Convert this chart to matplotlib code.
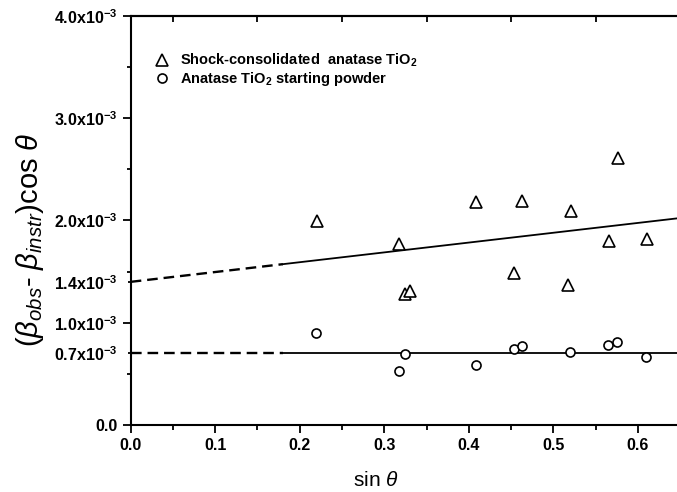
import matplotlib
matplotlib.use('Agg')
import matplotlib.pyplot as plt
import numpy as np

plt.rcParams['font.family'] = ['Liberation Sans', 'DejaVu Sans']
plt.rcParams['mathtext.fontset'] = 'custom'
plt.rcParams['mathtext.rm'] = 'Liberation Sans'
plt.rcParams['mathtext.it'] = 'Liberation Sans:italic'
plt.rcParams['mathtext.bf'] = 'Liberation Sans:bold'

# data (y values in units of 1e-3)
shock_x = [0.220, 0.318, 0.324, 0.331, 0.408, 0.454, 0.463, 0.517, 0.521, 0.566, 0.577, 0.611]
shock_y = [1.995, 1.770, 1.281, 1.313, 2.184, 1.487, 2.194, 1.366, 2.090, 1.802, 2.608, 1.816]
powder_x = [0.219, 0.317, 0.325, 0.408, 0.453, 0.463, 0.520, 0.565, 0.576, 0.610]
powder_y = [0.900, 0.531, 0.691, 0.590, 0.740, 0.770, 0.717, 0.785, 0.815, 0.665]

# linear fits: intercept, slope (units of 1e-3)
fit_shock = (1.40, 0.96)
fit_powder = (0.70, 0.0)
x_split = 0.18
x_max = 0.6465

ytick_vals = [0.0, 0.7, 1.0, 1.4, 2.0, 3.0, 4.0]
ytick_text = ['0.0', '0.7x10', '1.0x10', '1.4x10', '2.0x10', '3.0x10', '4.0x10']

fig = plt.figure(figsize=(6.77, 4.92), dpi=100)
ax = fig.add_axes([0.1931, 0.1362, 0.807, 0.8313])

sc = 1e-3
ax.plot(shock_x, np.array(shock_y) * sc, ls='none', marker='^', ms=8.5, mfc='white',
        mec='black', mew=1.2, label='Shock-consolidated  anatase TiO$_\\mathbf{2}$', zorder=3)
ax.plot(powder_x, np.array(powder_y) * sc, ls='none', marker='o', ms=6.5, mfc='white',
        mec='black', mew=1.2, label='Anatase TiO$_\\mathbf{2}$ starting powder', zorder=3)

for b0, b1 in [fit_shock, fit_powder]:
    xd = np.array([0.0, x_split])
    xs = np.array([x_split, x_max])
    ax.plot(xd, (b0 + b1 * xd) * sc, color='black', lw=1.7, ls=(0, (4.5, 2.5)))
    ax.plot(xs, (b0 + b1 * xs) * sc, color='black', lw=1.3)

ax.set_xlim(0, x_max)
ax.set_ylim(0, 4e-3)

ax.set_xticks(np.arange(0, 0.61, 0.1))
ax.set_xticks(np.arange(0.05, 0.65, 0.1), minor=True)
ax.set_xticklabels(['%.1f' % v for v in np.arange(0, 0.61, 0.1)])

ax.set_yticks(np.array(ytick_vals) * sc)
ylabels = [t if t == '0.0' else r'$\mathbf{%s^{-3}}$' % t for t in ytick_text]
ax.set_yticklabels(ylabels)
ax.set_yticks(np.array([0.5, 1.5, 2.5, 3.5]) * sc, minor=True)

for lab in ax.get_xticklabels() + ax.get_yticklabels():
    lab.set_fontweight('bold')
    lab.set_fontsize(11.5)

ax.tick_params(which='major', direction='out', length=5.5, width=1.3, pad=4)
ax.tick_params(which='minor', direction='out', length=3.5, width=1.3)
ax.tick_params(axis='y', which='minor', length=3)
for t, v in zip(ax.yaxis.get_major_ticks(), ytick_vals):
    if v in (0.7, 1.4):
        t.tick1line.set_markersize(2)

top = ax.secondary_xaxis('top')
top.set_xticks(np.arange(0.05, 0.65, 0.1))
top.tick_params(direction='in', length=4, width=1.3, labeltop=False)
top.spines['top'].set_linewidth(1.5)

for s in ['left', 'bottom', 'top']:
    ax.spines[s].set_linewidth(1.5)
ax.spines['right'].set_visible(False)

leg = ax.legend(loc='upper left', bbox_to_anchor=(0.02, 0.945), frameon=False,
                handlelength=1.0, handletextpad=0.7, labelspacing=0.05,
                prop={'weight': 'bold', 'size': 10.5})

fig.text(30 / 677, 1 - 240 / 492, r'$(\beta_{obs}$- $\beta_{instr}$)cos $\theta$',
         rotation=90, ha='center', va='center', fontsize=21)
fig.text(376 / 677, 1 - 481 / 492, r'sin $\theta$', ha='center', va='center', fontsize=15)

fig.savefig('out.png', dpi=100)
